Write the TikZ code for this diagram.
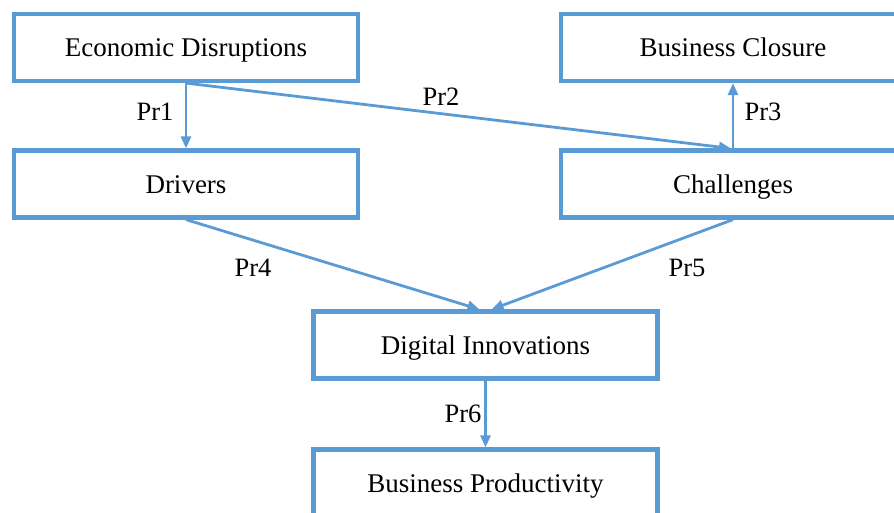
\documentclass[tikz,border=0pt]{standalone}
\usepackage{fontspec}
\setmainfont{Liberation Serif}
\usetikzlibrary{arrows.meta,calc}
\definecolor{boxblue}{RGB}{91,155,213}
\tikzset{
  box/.style={draw=boxblue, line width=4.2pt, minimum width=344pt, minimum height=67pt, inner sep=0pt, text height=21.5pt, text depth=3pt, font=\fontsize{27}{30}\selectfont, fill=white},
  conn/.style={draw=boxblue, line width=2.8pt, -{Triangle[length=12pt,width=10pt]}},
  lbl/.style={font=\fontsize{26.5}{30}\selectfont, inner sep=0pt}
}
\begin{document}
\begin{tikzpicture}[x=1pt,y=-1pt]
\useasboundingbox (0,0) rectangle (894,512);
\clip (0,0) rectangle (894,512);
\node[box] (ED) at (186,47.5) {Economic Disruptions};
\node[box] (BC) at (733,47.5) {Business Closure};
\node[box] (DR) at (186,184) {Drivers};
\node[box] (CH) at (733,184) {Challenges};
\node[box] (DI) at (485.5,345) {Digital Innovations};
\node[box] (BP) at (485.5,483) {Business Productivity};
\draw[conn] (ED.south) -- (DR.north);
\draw[conn] (ED.south) -- ($(CH.north)+(-2,0)$);
\draw[conn] (CH.north) -- (BC.south);
\draw[conn] (DR.south) -- ($(DI.north)+(-6,0)$);
\draw[conn] (CH.south) -- ($(DI.north)+(6,0)$);
\draw[conn] (DI.south) -- (BP.north);
\node[lbl] (l1) at (155,112) {Pr1};
\node[lbl] (l2) at (441,97) {Pr2};
\node[lbl] (l3) at (763,112) {Pr3};
\node[lbl] (l4) at (253,268) {Pr4};
\node[lbl] (l5) at (687,268) {Pr5};
\node[lbl] (l6) at (463,414) {Pr6};
\end{tikzpicture}
\end{document}
